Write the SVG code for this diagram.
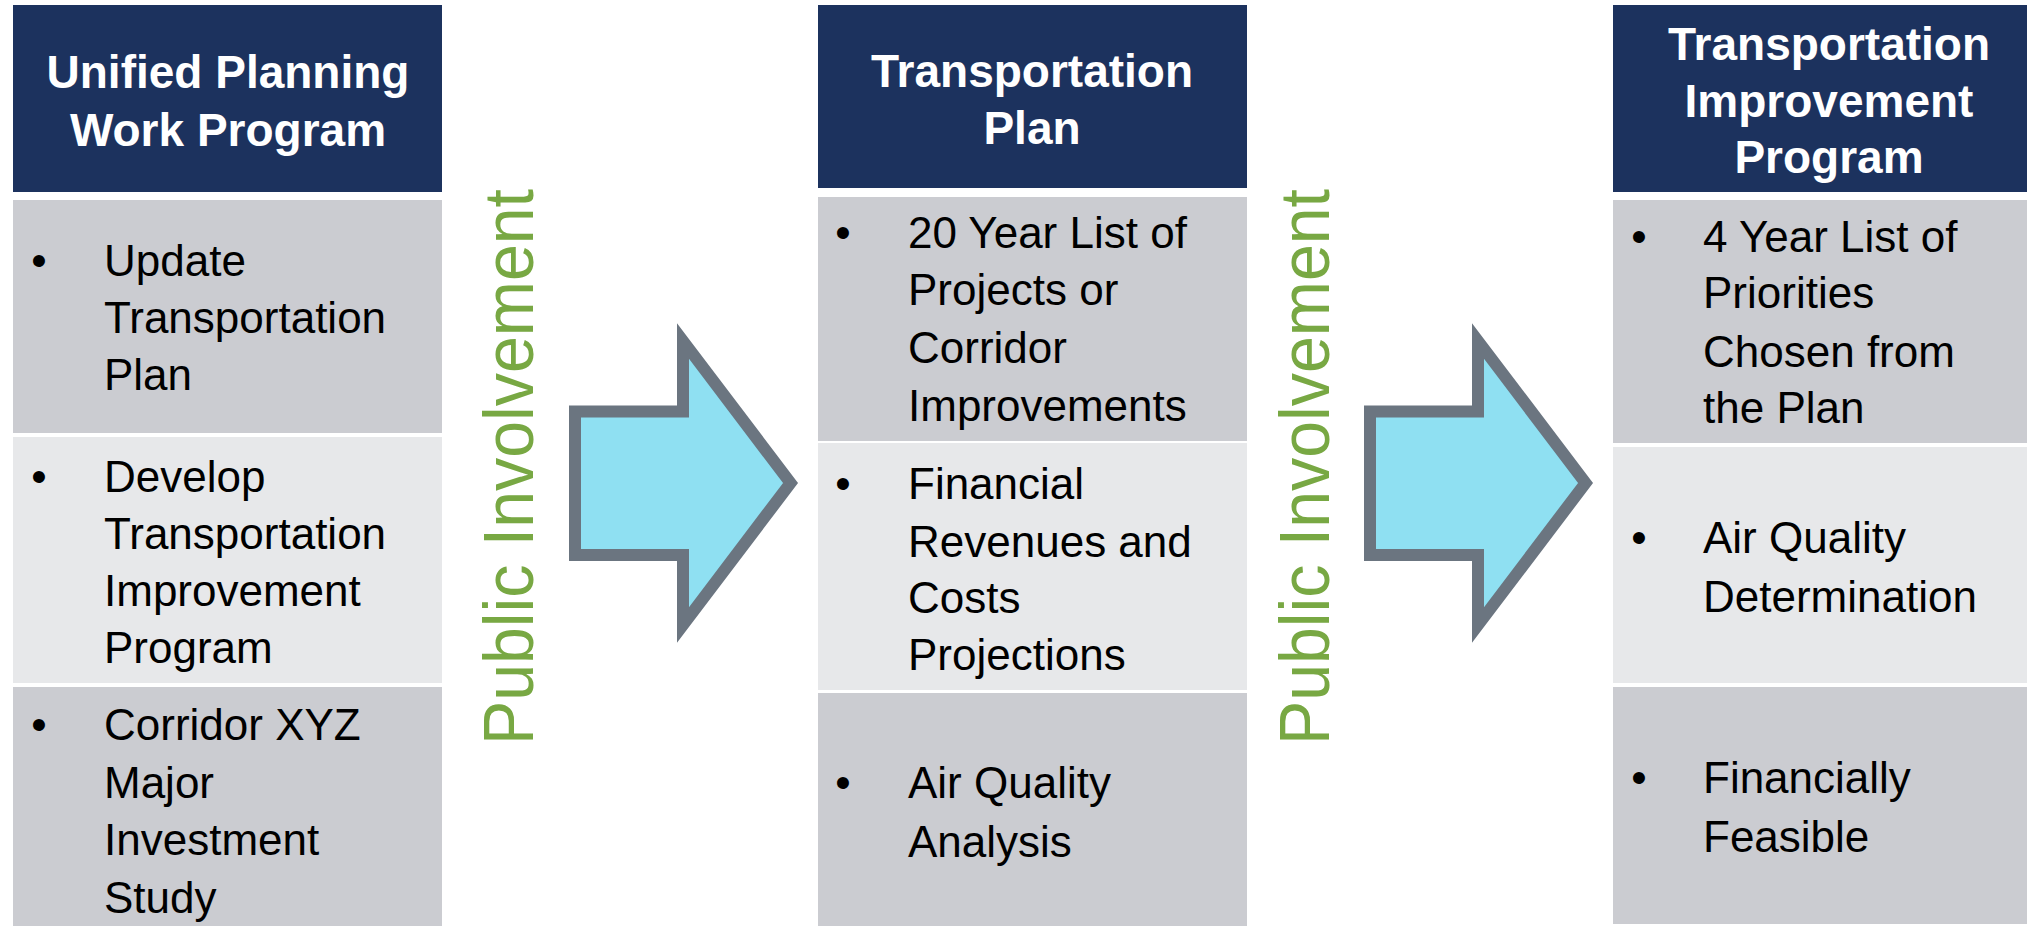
<svg xmlns="http://www.w3.org/2000/svg" width="2027" height="926" viewBox="0 0 2027 926">
<style>
.hdr{fill:#1c325e}
.dark{fill:#cbccd1}
.light{fill:#e7e8ea}
.ht{font-family:"Liberation Sans",Arial,sans-serif;font-weight:bold;font-size:46px;fill:#ffffff;text-anchor:middle}
.bt{font-family:"Liberation Sans",Arial,sans-serif;font-size:44px;fill:#000000}
.bu{font-family:"Liberation Sans",Arial,sans-serif;font-size:44px;fill:#000000;text-anchor:middle}
.pi{font-family:"Liberation Sans",Arial,sans-serif;font-size:70px;fill:#78a843;text-anchor:middle}
.arrow{fill:#8fe0f2;stroke:#6b7580;stroke-width:12;stroke-linejoin:miter;stroke-miterlimit:6}
</style>
<rect width="2027" height="926" fill="#ffffff"/>

<g id="col-upwp">
  <rect class="hdr" x="13" y="5" width="429" height="187"/>
  <text class="ht" x="228" y="88">Unified Planning</text>
  <text class="ht" x="228" y="146">Work Program</text>
  <rect class="dark" x="13" y="200" width="429" height="233"/>
  <text class="bu" x="39" y="276">•</text>
  <text class="bt" x="104" y="276">Update</text>
  <text class="bt" x="104" y="333">Transportation</text>
  <text class="bt" x="104" y="390">Plan</text>
  <rect class="light" x="13" y="437" width="429" height="246"/>
  <text class="bu" x="39" y="492">•</text>
  <text class="bt" x="104" y="492">Develop</text>
  <text class="bt" x="104" y="549">Transportation</text>
  <text class="bt" x="104" y="606">Improvement</text>
  <text class="bt" x="104" y="663">Program</text>
  <rect class="dark" x="13" y="687" width="429" height="239"/>
  <text class="bu" x="39" y="740">•</text>
  <text class="bt" x="104" y="740">Corridor XYZ</text>
  <text class="bt" x="104" y="798">Major</text>
  <text class="bt" x="104" y="855">Investment</text>
  <text class="bt" x="104" y="913">Study</text>
</g>

<g id="label-pi-1">
  <text class="pi" transform="translate(533,467) rotate(-90)" textLength="556" lengthAdjust="spacingAndGlyphs">Public Involvement</text>
</g>

<g id="col-tp">
  <rect class="hdr" x="818" y="5" width="429" height="183"/>
  <text class="ht" x="1032" y="87">Transportation</text>
  <text class="ht" x="1032" y="144">Plan</text>
  <rect class="dark" x="818" y="197" width="429" height="244"/>
  <text class="bu" x="843" y="248">•</text>
  <text class="bt" x="908" y="248">20 Year List of</text>
  <text class="bt" x="908" y="305">Projects or</text>
  <text class="bt" x="908" y="363">Corridor</text>
  <text class="bt" x="908" y="421">Improvements</text>
  <rect class="light" x="818" y="443" width="429" height="247"/>
  <text class="bu" x="843" y="499">•</text>
  <text class="bt" x="908" y="499">Financial</text>
  <text class="bt" x="908" y="557">Revenues and</text>
  <text class="bt" x="908" y="613">Costs</text>
  <text class="bt" x="908" y="670">Projections</text>
  <rect class="dark" x="818" y="693" width="429" height="233"/>
  <text class="bu" x="843" y="798">•</text>
  <text class="bt" x="908" y="798">Air Quality</text>
  <text class="bt" x="908" y="857">Analysis</text>
</g>

<g id="label-pi-2">
  <text class="pi" transform="translate(1329,467) rotate(-90)" textLength="556" lengthAdjust="spacingAndGlyphs">Public Involvement</text>
</g>

<g id="col-tip">
  <rect class="hdr" x="1613" y="5" width="414" height="187"/>
  <text class="ht" x="1829" y="60">Transportation</text>
  <text class="ht" x="1829" y="117">Improvement</text>
  <text class="ht" x="1829" y="173">Program</text>
  <rect class="dark" x="1613" y="200" width="414" height="243"/>
  <text class="bu" x="1639" y="252">•</text>
  <text class="bt" x="1703" y="252">4 Year List of</text>
  <text class="bt" x="1703" y="308">Priorities</text>
  <text class="bt" x="1703" y="367">Chosen from</text>
  <text class="bt" x="1703" y="423">the Plan</text>
  <rect class="light" x="1613" y="447" width="414" height="236"/>
  <text class="bu" x="1639" y="553">•</text>
  <text class="bt" x="1703" y="553">Air Quality</text>
  <text class="bt" x="1703" y="612">Determination</text>
  <rect class="dark" x="1613" y="687" width="414" height="237"/>
  <text class="bu" x="1639" y="793">•</text>
  <text class="bt" x="1703" y="793">Financially</text>
  <text class="bt" x="1703" y="852">Feasible</text>
</g>

<g id="connectors">
  <path class="arrow" d="M575,411.5 H683 V341 L790.5,483 L683,625 V555 H575 Z"/>
  <path class="arrow" d="M1370,411.5 H1478 V341 L1585.5,483 L1478,625 V555 H1370 Z"/>
</g>
</svg>
